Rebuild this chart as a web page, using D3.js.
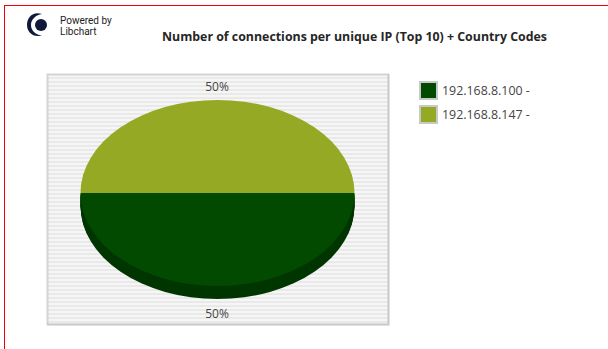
<!DOCTYPE html>
<html><head><meta charset="utf-8">
<script src="https://cdn.jsdelivr.net/npm/d3@7"></script>
<style>html,body{margin:0;padding:0;background:#fff}svg{display:block}text{font-family:"Open Sans","Noto Sans",sans-serif}</style>
</head><body><div id="c"></div>
<script>
const categories = ["192.168.8.100 -", "192.168.8.147 -"];
const values = [50, 50];
const colors = ["#014a00", "#95a924"];
const sideColor = "#013600";
const title = "Number of connections per unique IP (Top 10) + Country Codes";

const svg = d3.select("#c").append("svg").attr("width",608).attr("height",349);
svg.append("path").attr("d","M4.500 349V5.500H608").attr("fill","none").attr("stroke","#f00000").attr("stroke-width",1).attr("shape-rendering","crispEdges");

// logo
const logo = svg.append("g");
logo.append("path").attr("d","M42 14C33 11 27 17 27 25C27 32 33 38 42 35.500C36 35 31 31 31 25C31 19 36 15 42 14Z").attr("fill","#10193a");
logo.append("circle").attr("cx",41).attr("cy",25).attr("r",6).attr("fill","#10193a");
logo.append("text").attr("x",60).attr("y",23.500).attr("font-size",10).attr("fill","#222").style("font-family","Roboto").text("Powered by");
logo.append("text").attr("x",60).attr("y",35).attr("font-size",10).attr("fill","#222").style("font-family","Roboto").text("Libchart");

svg.append("text").attr("x",162).attr("y",41).attr("font-size",12).attr("font-weight",700).attr("fill","#262626")
  .attr("textLength",385).attr("lengthAdjust","spacingAndGlyphs").text(title);

// plot
const x0=47,x1=389,y0=74,y1=325;
svg.append("rect").attr("x",x0).attr("y",y0).attr("width",x1-x0).attr("height",y1-y0).attr("fill","#f6f6f6");
const stripes = d3.range(y0+3,y1-2,4);
svg.append("g").selectAll("rect").data(stripes).join("rect")
  .attr("x",x0).attr("y",d=>d).attr("width",x1-x0).attr("height",2).attr("fill","#e9e9e9");
svg.append("path").attr("d",`M${x0+.5} ${y1}V${y0+.5}H${x1}`).attr("fill","none").attr("stroke","#d4d4d4").attr("stroke-width",2);
svg.append("path").attr("d",`M${x0} ${y1-.5}H${x1-.5}V${y0}`).attr("fill","none").attr("stroke","#c8c8c8").attr("stroke-width",2);

// pie
const pie = d3.pie().sort(null).startAngle(Math.PI/2).endAngle(Math.PI*2.5);
const arcs = pie(values);
const rx=137, ry=93, depth=13, cx=217.500, cy=193;
const arc = d3.arc().innerRadius(0).outerRadius(1);
const g = svg.append("g");
const unit = (dy)=>`translate(${cx},${cy+dy}) scale(${rx},${ry})`;
d3.range(depth,0,-1).forEach(d=>{
  g.append("path").attr("d",arc(arcs[0])).attr("transform",unit(d)).attr("fill",sideColor);
});
g.selectAll("path.top").data(arcs).join("path").attr("class","top")
  .attr("d",arc).attr("transform",unit(0)).attr("fill",(d,i)=>colors[i]);

svg.append("text").attr("x",217).attr("y",91).attr("text-anchor","middle").attr("font-size",12).attr("fill","#444").text(values[1]+"%");
svg.append("text").attr("x",217).attr("y",318).attr("text-anchor","middle").attr("font-size",12).attr("fill","#444").text(values[0]+"%");

// legend
const leg = svg.append("g").selectAll("g").data(categories).join("g").attr("transform",(d,i)=>`translate(419,${81+i*24})`);
leg.append("rect").attr("width",19).attr("height",19).attr("fill","#c8c8c8");
leg.append("rect").attr("x",2).attr("y",2).attr("width",15).attr("height",15).attr("fill",(d,i)=>colors[i]);
leg.append("text").attr("x",23).attr("y",14).attr("font-size",12.400).attr("fill","#444").text(d=>d);
</script></body></html>
